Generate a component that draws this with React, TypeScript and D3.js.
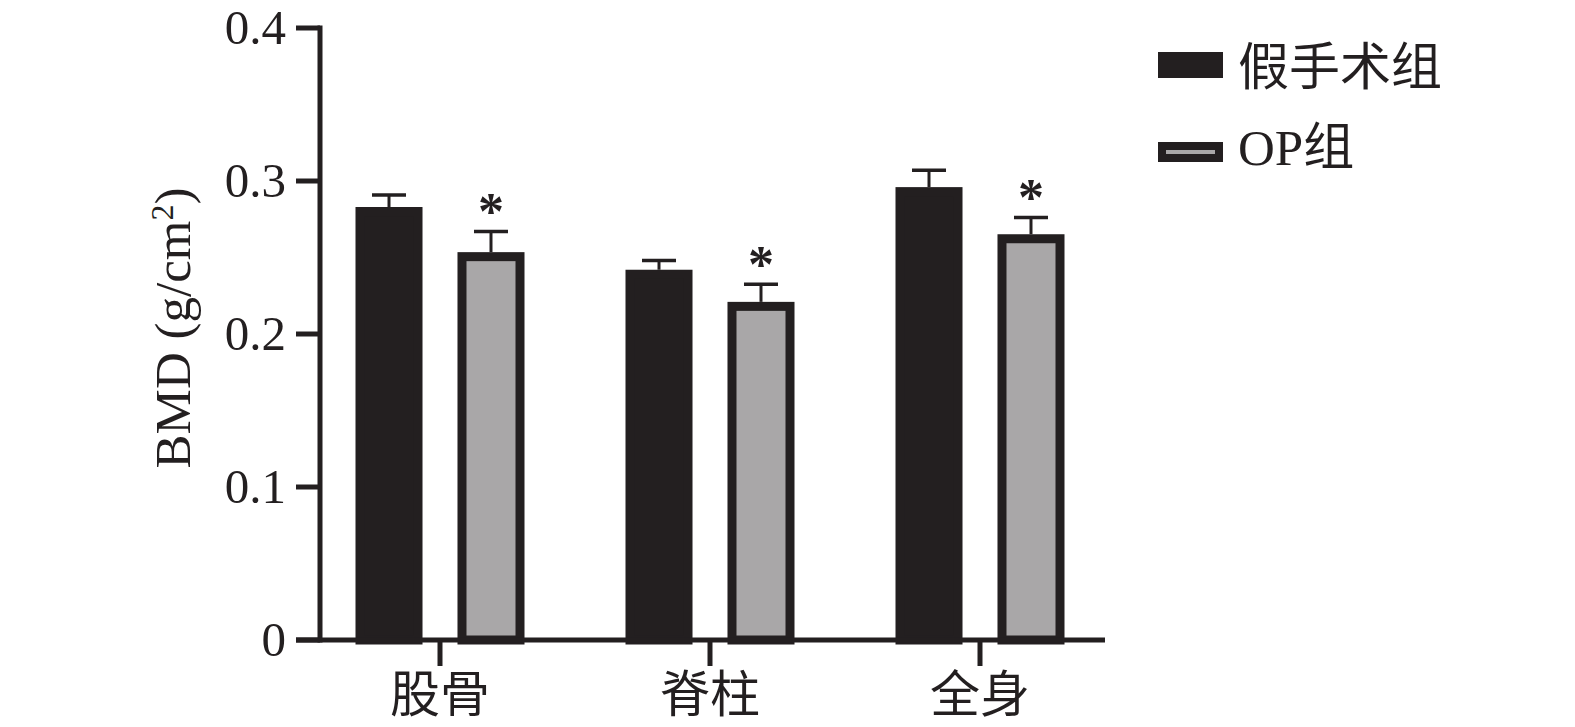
import React from "react";
import * as d3 from "d3";

const categories = ["股骨", "脊柱", "全身"];
const seriesNames = ["假手术组", "OP组"];
const shamValues = [0.283, 0.242, 0.296];
const shamSD = [0.0078, 0.006, 0.011];
const opValues = [0.2535, 0.221, 0.2652];
const opSD = [0.0135, 0.0115, 0.011];
const significant = [true, true, true];
const yTicks = [0, 0.1, 0.2, 0.3, 0.4];
const yTickLabels = ["0", "0.1", "0.2", "0.3", "0.4"];

const W = 1575;
const H = 727;
const DARK = "#231f20";
const GRAY = "#a9a7a8";
const SERIF = "'Liberation Serif', 'DejaVu Serif', serif";
const CJK = "'Liberation Serif', 'Noto Sans CJK SC', sans-serif";

export default function App() {
  const y = d3.scaleLinear().domain([0, 0.4]).range([640, 28]);
  const x = d3.scalePoint<string>().domain(categories).range([440, 980]);
  const inner = d3.scaleBand<string>().domain(seriesNames).range([-84.5, 84.5]).paddingInner(0.343);
  const axisX = 320;
  const axisEnd = 1105;
  const sw = 9;
  const series = [
    { name: seriesNames[0], values: shamValues, sd: shamSD, fill: DARK },
    { name: seriesNames[1], values: opValues, sd: opSD, fill: GRAY },
  ];
  const capW = 34;

  return (
    <svg width={W} height={H} style={{ position: "absolute", left: 0, top: 0, background: "#fff" }}>
      {/* bars */}
      {series.map((s) =>
        categories.map((c, i) => {
          const x0 = (x(c) as number) + (inner(s.name) as number);
          const bw = inner.bandwidth();
          const top = y(s.values[i]);
          const capY = y(s.values[i] + s.sd[i]);
          const cx = x0 + bw / 2;
          return (
            <g key={s.name + c}>
              <line x1={cx} x2={cx} y1={top} y2={capY} stroke={DARK} strokeWidth={3} />
              <line x1={cx - capW / 2} x2={cx + capW / 2} y1={capY} y2={capY} stroke={DARK} strokeWidth={3.5} />
              <rect
                x={x0 + sw / 2}
                y={top + sw / 2}
                width={bw - sw}
                height={y(0) - top - sw / 2}
                fill={s.fill}
                stroke={DARK}
                strokeWidth={sw}
              />
              {s.name === seriesNames[1] && significant[i] && (
                <text x={cx} y={capY - 2} textAnchor="middle" fontFamily={SERIF} fontWeight="bold" fontSize={52} fill={DARK}>
                  *
                </text>
              )}
            </g>
          );
        })
      )}

      {/* y axis */}
      <line x1={axisX} x2={axisX} y1={y(0.4) - 2.5} y2={y(0) + 2.5} stroke={DARK} strokeWidth={5} />
      {yTicks.map((t, i) => (
        <g key={t}>
          <line x1={axisX - 24} x2={axisX} y1={y(t)} y2={y(t)} stroke={DARK} strokeWidth={5} />
          <text x={286} y={y(t) + 16} textAnchor="end" fontFamily={SERIF} fontSize={49} fill={DARK}>
            {yTickLabels[i]}
          </text>
        </g>
      ))}

      {/* x axis */}
      <line x1={axisX - 24} x2={axisEnd} y1={y(0)} y2={y(0)} stroke={DARK} strokeWidth={5} />
      {categories.map((c) => (
        <g key={c}>
          <line x1={x(c)} x2={x(c)} y1={y(0)} y2={y(0) + 26} stroke={DARK} strokeWidth={5} />
          <text x={x(c)} y={712} textAnchor="middle" fontFamily={CJK} fontSize={50} fill={DARK}>
            {c}
          </text>
        </g>
      ))}

      {/* y label */}
      <text
        transform={`translate(190, 328) rotate(-90)`}
        textAnchor="middle"
        fontFamily={SERIF}
        fontSize={51}
        fill={DARK}
      >
        BMD (g/cm<tspan dy={-17} fontSize={32}>2</tspan>
        <tspan dy={17}>)</tspan>
      </text>

      {/* legend */}
      <rect x={1158} y={52} width={65} height={26} fill={DARK} />
      <text x={1238} y={85} fontFamily={CJK} fontSize={51} fill={DARK}>
        {seriesNames[0]}
      </text>
      <rect x={1162} y={146} width={57} height={12} fill={GRAY} stroke={DARK} strokeWidth={8} />
      <text x={1238} y={165} fontFamily={CJK} fontSize={51} fill={DARK}>
        {seriesNames[1]}
      </text>
    </svg>
  );
}
